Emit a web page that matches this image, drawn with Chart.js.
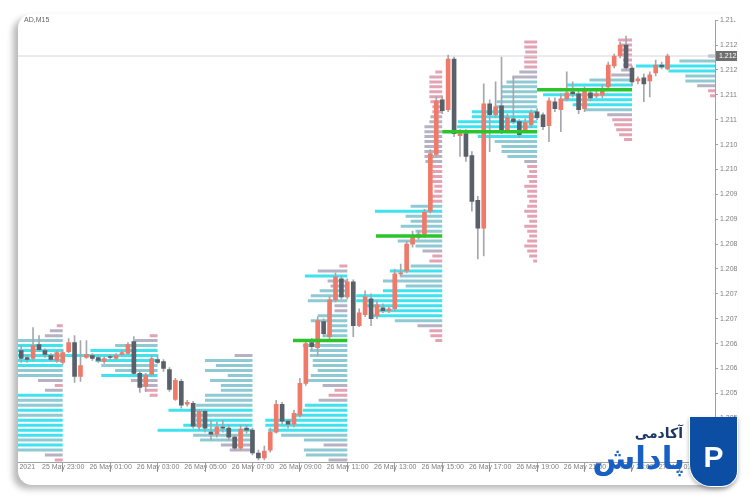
<!DOCTYPE html>
<html><head><meta charset="utf-8">
<script src="https://cdn.jsdelivr.net/npm/chart.js@4.4.0/dist/chart.umd.min.js"></script>
<style>
html,body{margin:0;padding:0;background:#fff;width:750px;height:500px;overflow:hidden;}
#card{position:absolute;left:18px;top:14px;width:719px;height:471px;background:#fff;border-radius:14px;overflow:hidden;box-shadow:-5px 4px 6px rgba(0,0,0,0.28);}
#c{position:absolute;left:-40px;top:0;}
#sym{position:absolute;left:24px;top:16px;font:7px 'Liberation Sans';color:#666;}
#logoBox{position:absolute;left:689px;top:417px;width:47px;height:69px;background:#0c4ea3;border:1.5px solid #fff;border-top:none;border-radius:0 0 16px 22px;box-shadow:0 2px 4px rgba(0,0,0,0.3);color:#fff;font:bold 30px 'Liberation Sans';text-align:center;line-height:80px;}
#t1{position:absolute;right:67px;top:425px;font:bold 14px 'DejaVu Sans';color:#1c3766;direction:rtl;}
#t2{position:absolute;right:65px;top:440px;font:bold 31px 'DejaVu Sans';color:#1861c4;direction:rtl;}
</style></head>
<body>
<div id="card"><canvas id="c" width="800" height="471"></canvas></div>
<div id="sym">AD,M15</div>
<div id="t1">آکادمی</div>
<div id="t2">پاداش</div>
<div id="logoBox">P</div>
<script>
// ---- candle data (USDCAD M15, bar index 0 = 25 May 22:15) ----
const opens = [1.20636,1.20622,1.20620,1.20648,1.20636,1.20626,1.20616,1.20612,1.20634,1.20652,
1.20584,1.20622,1.20626,1.20622,1.20614,1.20624,1.20620,1.20628,1.20630,1.20654,
1.20590,1.20564,1.20588,1.20618,1.20614,1.20598,1.20538,1.20574,1.20528,1.20530,
1.20482,1.20514,1.20472,1.20468,1.20482,1.20480,1.20462,1.20440,1.20480,1.20476,
1.20430,1.20420,1.20436,1.20472,1.20528,1.20494,1.20488,1.20506,1.20570,1.20652,
1.20642,1.20694,1.20664,1.20738,1.20780,1.20744,1.20774,1.20686,1.20708,1.20740,
1.20706,1.20722,1.20716,1.20720,1.20790,1.20796,1.20850,1.20864,1.20870,1.20916,
1.21030,1.21140,1.21120,1.21222,1.21068,1.21072,1.21028,1.20938,1.20882,1.21132,
1.21110,1.21128,1.21080,1.21102,1.21096,1.21080,1.21090,1.21116,1.21110,1.21088,
1.21136,1.21120,1.21142,1.21156,1.21152,1.21122,1.21154,1.21148,1.21150,1.21166,
1.21208,1.21228,1.21250,1.21204,1.21178,1.21184,1.21178,1.21194,1.21210,1.21202];
const highs = [1.20646,1.20628,1.20682,1.20666,1.20640,1.20630,1.20636,1.20638,1.20660,1.20666,
1.20656,1.20656,1.20630,1.20626,1.20624,1.20628,1.20630,1.20636,1.20652,1.20664,
1.20594,1.20590,1.20626,1.20628,1.20618,1.20602,1.20580,1.20578,1.20536,1.20534,
1.20518,1.20518,1.20496,1.20492,1.20496,1.20486,1.20466,1.20486,1.20486,1.20480,
1.20436,1.20444,1.20480,1.20536,1.20532,1.20498,1.20516,1.20580,1.20656,1.20660,
1.20704,1.20700,1.20744,1.20792,1.20786,1.20780,1.20778,1.20720,1.20756,1.20750,
1.20736,1.20730,1.20724,1.20800,1.20810,1.20856,1.20876,1.20876,1.20920,1.21040,
1.21146,1.21148,1.21230,1.21226,1.21080,1.21080,1.21036,1.20946,1.21172,1.21140,
1.21176,1.21226,1.21112,1.21186,1.21100,1.21102,1.21120,1.21122,1.21114,1.21144,
1.21144,1.21152,1.21196,1.21176,1.21160,1.21166,1.21160,1.21158,1.21170,1.21216,
1.21232,1.21256,1.21268,1.21208,1.21186,1.21192,1.21196,1.21220,1.21216,1.21232];
const lows = [1.20612,1.20612,1.20616,1.20634,1.20622,1.20614,1.20612,1.20608,1.20632,1.20572,
1.20574,1.20620,1.20616,1.20612,1.20610,1.20618,1.20618,1.20626,1.20628,1.20588,
1.20552,1.20554,1.20586,1.20610,1.20594,1.20554,1.20536,1.20520,1.20524,1.20480,
1.20476,1.20472,1.20456,1.20462,1.20472,1.20456,1.20436,1.20436,1.20470,1.20426,
1.20416,1.20416,1.20432,1.20470,1.20488,1.20480,1.20482,1.20502,1.20566,1.20636,
1.20626,1.20664,1.20660,1.20734,1.20740,1.20740,1.20664,1.20684,1.20704,1.20686,
1.20700,1.20712,1.20712,1.20716,1.20786,1.20792,1.20844,1.20860,1.20864,1.20912,
1.21026,1.21112,1.21116,1.21066,1.21026,1.21016,1.20916,1.20820,1.20826,1.21036,
1.21104,1.21072,1.21076,1.21092,1.21064,1.21076,1.21084,1.21100,1.21080,1.21056,
1.21116,1.21076,1.21138,1.21146,1.21112,1.21116,1.21138,1.21144,1.21144,1.21162,
1.21204,1.21224,1.21200,1.21168,1.21172,1.21136,1.21146,1.21188,1.21202,1.21200];
const closes = [1.20620,1.20618,1.20646,1.20638,1.20628,1.20618,1.20632,1.20632,1.20652,1.20584,
1.20606,1.20628,1.20620,1.20616,1.20620,1.20622,1.20626,1.20632,1.20648,1.20590,
1.20562,1.20586,1.20620,1.20612,1.20600,1.20558,1.20576,1.20526,1.20532,1.20484,
1.20514,1.20480,1.20468,1.20482,1.20480,1.20462,1.20440,1.20478,1.20476,1.20430,
1.20420,1.20434,1.20472,1.20528,1.20494,1.20488,1.20510,1.20570,1.20650,1.20644,
1.20696,1.20670,1.20738,1.20784,1.20744,1.20774,1.20686,1.20712,1.20744,1.20700,
1.20728,1.20716,1.20720,1.20790,1.20792,1.20850,1.20864,1.20870,1.20914,1.21032,
1.21138,1.21118,1.21222,1.21072,1.21072,1.21026,1.20936,1.20882,1.21132,1.21110,
1.21126,1.21080,1.21104,1.21096,1.21070,1.21094,1.21114,1.21104,1.21086,1.21138,
1.21122,1.21142,1.21154,1.21152,1.21120,1.21160,1.21144,1.21152,1.21162,1.21210,
1.21228,1.21250,1.21204,1.21176,1.21182,1.21172,1.21190,1.21210,1.21206,1.21228];

// ---- volume profiles: session end (bar index), top price, rows of volume+zone ----
// zone: c = value area, t = normal, g = low, p = very low, P = point of control
const sessionEnds = [7, 23, 39, 55, 71, 87, 103, 117];
const sessionTops = [1.20686, 1.20666, 1.20626, 1.20806, 1.21196, 1.21256, 1.21260, 1.21228];
const profile1 = ['6p','13g','18g','50t','55c','55c','58c','55c','50c','48t','48t','25g','8p','18g','55c','48t','48t','55c','50t','55c','55c','55c','55c','50t','55c','50t','18g','8p'];
const profile2 = ['8p','23g','43t','68c','95c','63c','57t','43t','57c','27g','20g','13p','8p'];
const profile3 = ['18g','48t','37t','48t','25t','43t','32t','32t','48t','48t','57t','85c','60t','57c','70c','96c','60t','53t','32g','23g'];
const profile4 = ['8p','30g','43c','20g','17g','28t','37t','40t','13g','13g','30t','37t','18t','18t','25t','55P','45t','38t','38t','35t','35t','30t','37t','42t','25g','13p','19p','29g','43c','45c','55c','83c','83c','80c','67t','44t','24g','44t','42t','19g'];
const profile5 = ['7p','13p','13p','13p','13p','13p','12p','10p','10p','12g','13g','18g','18g','18g','18g','18g','18g','18g','17g','10p','10p','10p','10p','8p','8p','13p','13p','32t','68c','37t','32t','42t','27t','67P','45t','27t','20g','10p','13p','32t','53c','43t','60t','37t','60c','87c','87c','77c','67c','70c','48t','25g','13p','12p','7p'];
const profile6 = ['13p','13p','12p','13p','13p','13p','18g','25g','31t','36t','36t','36t','41t','43t','66c','66c','80c','81c','96P','60c','43t','36t','36t','30t','13g','10p','8p','10p','8p','13p','10p','10p','8p','10p','13p','10p','8p','13p','10p','8p','10p','13p','10p','8p','4p'];
const profile7 = ['14p','13p','11p','10p','9p','9p','11g','21g','43t','66c','96P','90c','70c','60c','48t','25g','20p','18p','16p','13p','8p'];
const profile8 = ['7g','36t','80c','47c','30t','30t','18g','7p','5p'];
const profiles = [profile1, profile2, profile3, profile4, profile5, profile6, profile7, profile8];
const ROW_STEP = 0.0001;   // one pip per profile row
const VOL_PER_BAR = 6;     // volume units per candle slot

// ---- axes ----
const xTickIdx = [-5, 3, 11, 19, 27, 35, 43, 51, 59, 67, 75, 83, 91, 99, 107];
const xTickLabels = ['25 May 2021','25 May 23:00','26 May 01:00','26 May 03:00','26 May 05:00','26 May 07:00','26 May 09:00','26 May 11:00','26 May 13:00','26 May 15:00','26 May 17:00','26 May 19:00','26 May 21:00','26 May 23:00','27 May 01:00'];
const yTickVals = [1.2045,1.2050,1.2055,1.2060,1.2065,1.2070,1.2075,1.2080,1.2085,1.2090,1.2095,1.2100,1.2105,1.2110,1.2115,1.2120,1.2125,1.2130];
const X_MIN = -0.54, X_MAX = 117.0, Y_MIN = 1.20412, Y_MAX = 1.21300;

const BULL = '#ef7a69', BEAR = '#596069', WICK = '#a4a8ad';
const zoneColors = {c:'#3fe2ef', t:'#8fc9d3', g:'#b6b2c4', p:'#e2a3b5'};

function segments(zone) {
  const pts = [];
  profiles.forEach((rows, k) => {
    rows.forEach((tok, r) => {
      if (tok.slice(-1) !== zone) return;
      const v = parseFloat(tok), y = sessionTops[k] - r * ROW_STEP, end = sessionEnds[k];
      pts.push({x: end - v / VOL_PER_BAR, y}, {x: end, y}, {x: end, y: null});
    });
  });
  return pts;
}

const datasets = [];
['p','g','t','c'].forEach(z => datasets.push({
  type:'line', data: segments(z), borderColor: zoneColors[z], borderWidth: 3,
  borderCapStyle:'butt', pointRadius:0, spanGaps:false, tension:0, clip:0, order:10
}));
const last = closes[closes.length - 1];
datasets.push({type:'line', data:[{x:X_MIN,y:last},{x:X_MAX,y:last}], borderColor:'#d6d6d6', borderWidth:1, pointRadius:0, clip:0, order:9});
datasets.push({type:'bar', data: opens.map((o,i)=>({x:i, y:[lows[i], highs[i]]})), backgroundColor: WICK, barThickness:1, grouped:false, clip:0, order:3});
datasets.push({type:'bar', data: opens.map((o,i)=>({x:i, y:[o, closes[i]]})), backgroundColor: opens.map((o,i)=> closes[i] >= o ? BULL : BEAR), barThickness:4, minBarLength:1, grouped:false, clip:0, order:2});
datasets.push({type:'line', data: segments('P'), borderColor:'#2cc42c', borderWidth:3.5, borderCapStyle:'butt', pointRadius:0, spanGaps:false, clip:0, order:1});

const priceTag = {
  id:'priceTag',
  afterDraw(chart) {
    const c = chart.ctx, y = chart.scales.y.getPixelForValue(last), x = chart.chartArea.right + 1;
    c.save();
    c.fillStyle = '#6f6f6f'; c.fillRect(x, Math.round(y) - 5, 26, 10);
    c.fillStyle = '#fff'; c.font = '7px "Liberation Sans"'; c.textBaseline = 'middle';
    c.fillText(last.toFixed(5), x + 3, y);
    c.restore();
  }
};

const tickFont = {family:'Liberation Sans', size:7};
new Chart(document.getElementById('c'), {
  type:'bar',
  data:{datasets},
  plugins:[priceTag],
  options:{
    responsive:false, animation:false, devicePixelRatio:1,
    layout:{padding:{left:40, top:4, right:0, bottom:0}},
    plugins:{legend:{display:false}, tooltip:{enabled:false}},
    scales:{
      x:{type:'linear', min:X_MIN, max:X_MAX, offset:false,
        afterBuildTicks: s => { s.ticks = xTickIdx.map(v => ({value:v})); },
        afterFit: s => { s.height = 23; },
        ticks:{autoSkip:false, maxRotation:0, minRotation:0, align:'start', labelOffset:3, padding:-9,
          color:'#7f7f7f', font:tickFont, callback:(v,i) => xTickLabels[i]},
        grid:{drawOnChartArea:false, drawTicks:true, tickLength:10, color:'#a0a0a0'},
        border:{display:true, color:'#a0a0a0'}
      },
      y:{type:'linear', position:'right', min:Y_MIN, max:Y_MAX,
        afterBuildTicks: s => { s.ticks = yTickVals.map(v => ({value:v})); },
        afterFit: s => { s.width = 63; },
        ticks:{color:'#7f7f7f', font:tickFont, padding:2, callback: v => v.toFixed(5)},
        grid:{drawOnChartArea:false, tickLength:3, color:'#a0a0a0'},
        border:{display:true, color:'#a0a0a0'}
      }
    }
  }
});
</script>
</body></html>
